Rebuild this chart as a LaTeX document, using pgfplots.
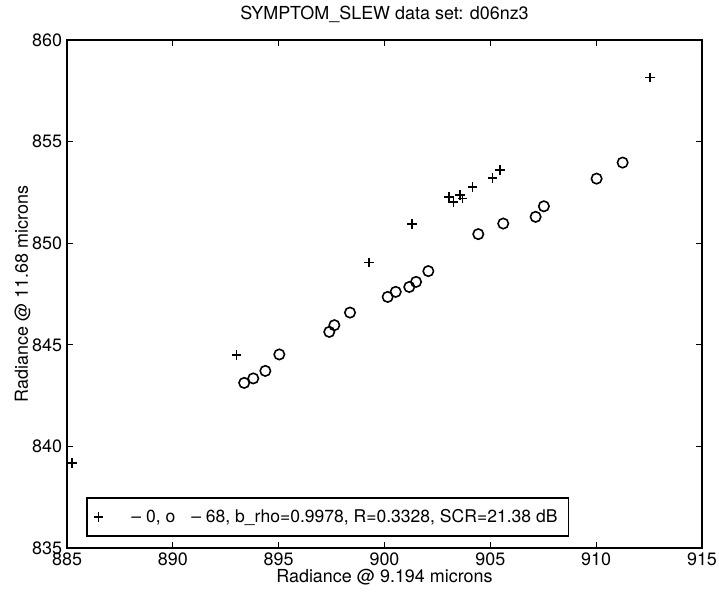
\documentclass[border=0pt]{standalone}
\usepackage{fontspec}
\setmainfont{TeX Gyre Heros}
\usepackage{pgfplots}
\pgfplotsset{compat=1.18}

\pgfplotstableread{
x y
885.24 839.18
893.00 844.49
899.28 849.05
901.31 850.94
903.06 852.28
903.25 852.03
903.56 852.36
903.69 852.20
904.16 852.77
905.11 853.21
905.45 853.59
912.54 858.15
}\plusdata

\pgfplotstableread{
x y
893.37 843.13
893.80 843.35
894.37 843.72
895.03 844.53
897.39 845.64
897.63 845.97
898.37 846.59
900.15 847.36
900.53 847.61
901.17 847.85
901.49 848.10
902.07 848.63
904.43 850.45
905.61 850.97
907.14 851.30
907.53 851.82
910.02 853.18
911.25 853.97
}\circdata

\begin{document}
\begin{tikzpicture}
\begin{axis}[
  name=ax,
  scale only axis,
  width=317.4bp, height=254bp,
  xmin=885, xmax=915, ymin=835, ymax=860,
  xtick={885,890,...,915}, ytick={835,840,...,860},
  tick align=inside,
  major tick length=3bp,
  tick style={line width=0.6pt, black},
  axis line style={line width=0.8pt},
  font=\fontsize{9}{10.5}\selectfont,
  /pgf/number format/assume math mode=true,
  /pgf/number format/1000 sep={},
  xticklabel style={yshift=1bp},
  yticklabel style={xshift=1bp},
  title={SYMPTOM\_SLEW data set: d06nz3},
  title style={yshift=-1bp},
  xlabel={Radiance @ 9.194 microns},
  xlabel style={yshift=5.5bp},
  ylabel={Radiance @ 11.68 microns},
  ylabel style={yshift=-6bp},
  legend style={at={(0.03,0.022)}, anchor=south west, draw=black,
    line width=0.8pt, font=\fontsize{8.8}{10.5}\selectfont,
    inner xsep=3.5bp, inner ysep=3.5bp},
  legend cell align=left,
]
\addplot[only marks, mark=+, mark size=2.4bp, line width=0.8pt, black] table {\plusdata};
\addlegendentry{\hspace{12bp}-- 0, o\hspace{8bp}-- 68, b\_rho=0.9978, R=0.3328, SCR=21.38 dB}
\addplot[only marks, mark=o, mark size=2.6bp, line width=0.8pt, black] table {\circdata};
\end{axis}
\pgfresetboundingbox
\path ([xshift=-33.5bp,yshift=-21.5bp]ax.south west) rectangle ([xshift=8.5bp,yshift=20bp]ax.north east);
\end{tikzpicture}
\end{document}
